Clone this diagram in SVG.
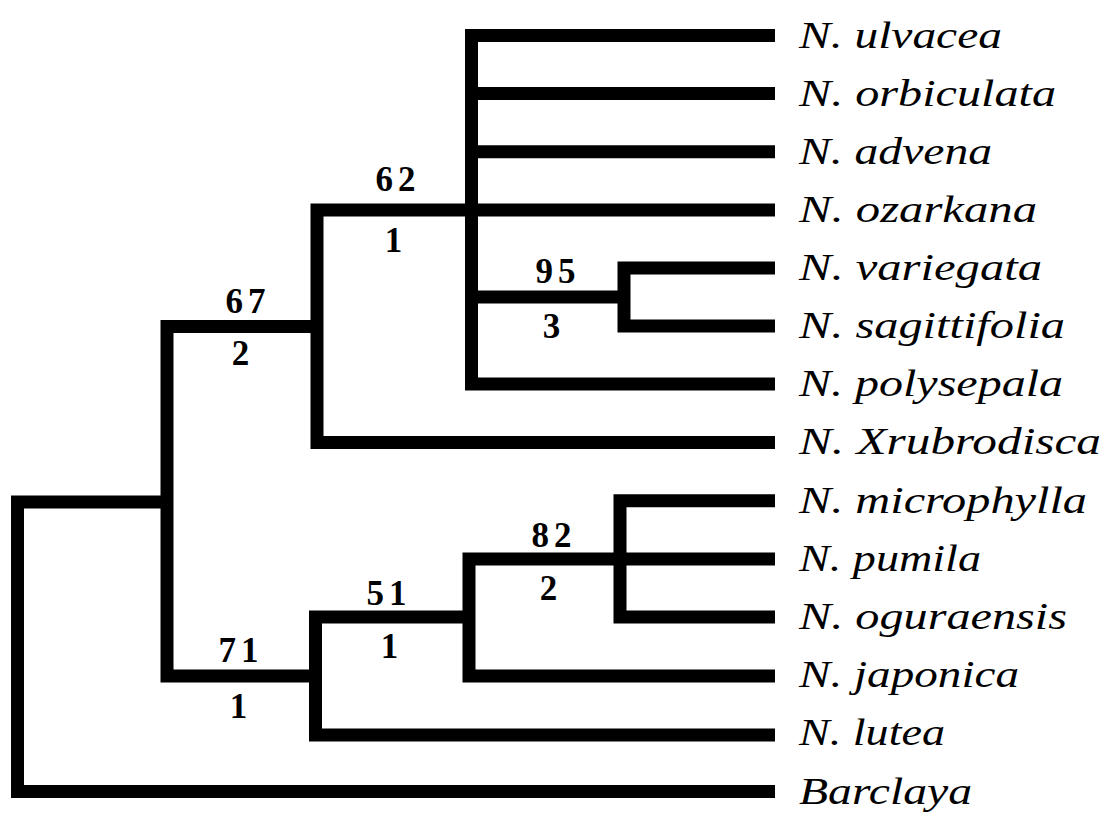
<svg xmlns="http://www.w3.org/2000/svg" width="1110" height="817" viewBox="0 0 1110 817">
<style>
.br{fill:none;stroke:#000;stroke-width:13;stroke-linejoin:miter;stroke-linecap:butt}
.tx{font-family:"Liberation Serif","Times New Roman",serif;font-style:italic;font-size:38px;fill:#000}
.nm{font-family:"Liberation Serif","Times New Roman",serif;font-weight:bold;font-size:35px;fill:#000;text-anchor:middle;letter-spacing:5px}
</style>
<rect width="1110" height="817" fill="#fff"/>
<g id="connectors">
<path class="br" d="M775,35.5 H471.5 V384 H775"/>
<path class="br" d="M471.5,93.6 H775"/>
<path class="br" d="M471.5,151.8 H775"/>
<path class="br" d="M471.5,297 H624"/>
<path class="br" d="M775,268 H624 V326 H775"/>
<path class="br" d="M775,210 H317 V442.5 H775"/>
<path class="br" d="M317,326.5 H167 V676 H315.5"/>
<path class="br" d="M167,502 H17.5 V791.5 H775"/>
<path class="br" d="M469,617 H315.5 V735 H775"/>
<path class="br" d="M620,559 H469 V676 H775"/>
<path class="br" d="M775,500.7 H620 V617 H775"/>
<path class="br" d="M620,559 H775"/>
</g>
<g id="leaf-ulvacea"><text class="tx" x="799" y="48" textLength="203" lengthAdjust="spacingAndGlyphs">N. ulvacea</text></g>
<g id="leaf-orbiculata"><text class="tx" x="799" y="106" textLength="257" lengthAdjust="spacingAndGlyphs">N. orbiculata</text></g>
<g id="leaf-advena"><text class="tx" x="799" y="164" textLength="193" lengthAdjust="spacingAndGlyphs">N. advena</text></g>
<g id="leaf-ozarkana"><text class="tx" x="799" y="222" textLength="238" lengthAdjust="spacingAndGlyphs">N. ozarkana</text></g>
<g id="leaf-variegata"><text class="tx" x="799" y="280" textLength="243" lengthAdjust="spacingAndGlyphs">N. variegata</text></g>
<g id="leaf-sagittifolia"><text class="tx" x="799" y="338" textLength="266" lengthAdjust="spacingAndGlyphs">N. sagittifolia</text></g>
<g id="leaf-polysepala"><text class="tx" x="799" y="396" textLength="264" lengthAdjust="spacingAndGlyphs">N. polysepala</text></g>
<g id="leaf-xrubrodisca"><text class="tx" x="799" y="454" textLength="302" lengthAdjust="spacingAndGlyphs">N. Xrubrodisca</text></g>
<g id="leaf-microphylla"><text class="tx" x="799" y="513" textLength="288" lengthAdjust="spacingAndGlyphs">N. microphylla</text></g>
<g id="leaf-pumila"><text class="tx" x="799" y="571" textLength="182" lengthAdjust="spacingAndGlyphs">N. pumila</text></g>
<g id="leaf-oguraensis"><text class="tx" x="799" y="629" textLength="268" lengthAdjust="spacingAndGlyphs">N. oguraensis</text></g>
<g id="leaf-japonica"><text class="tx" x="799" y="687" textLength="220" lengthAdjust="spacingAndGlyphs">N. japonica</text></g>
<g id="leaf-lutea"><text class="tx" x="799" y="745" textLength="146" lengthAdjust="spacingAndGlyphs">N. lutea</text></g>
<g id="leaf-barclaya"><text class="tx" x="799" y="804" textLength="173" lengthAdjust="spacingAndGlyphs">Barclaya</text></g>
<g id="node-62"><text class="nm" x="398" y="191">62</text><text class="nm" x="396" y="252">1</text></g>
<g id="node-95"><text class="nm" x="558" y="283">95</text><text class="nm" x="554" y="338">3</text></g>
<g id="node-67"><text class="nm" x="248" y="313">67</text><text class="nm" x="243" y="365">2</text></g>
<g id="node-82"><text class="nm" x="554" y="547">82</text><text class="nm" x="551" y="600">2</text></g>
<g id="node-51"><text class="nm" x="389" y="605">51</text><text class="nm" x="392" y="658">1</text></g>
<g id="node-71"><text class="nm" x="241" y="662">71</text><text class="nm" x="241" y="718">1</text></g>
</svg>
